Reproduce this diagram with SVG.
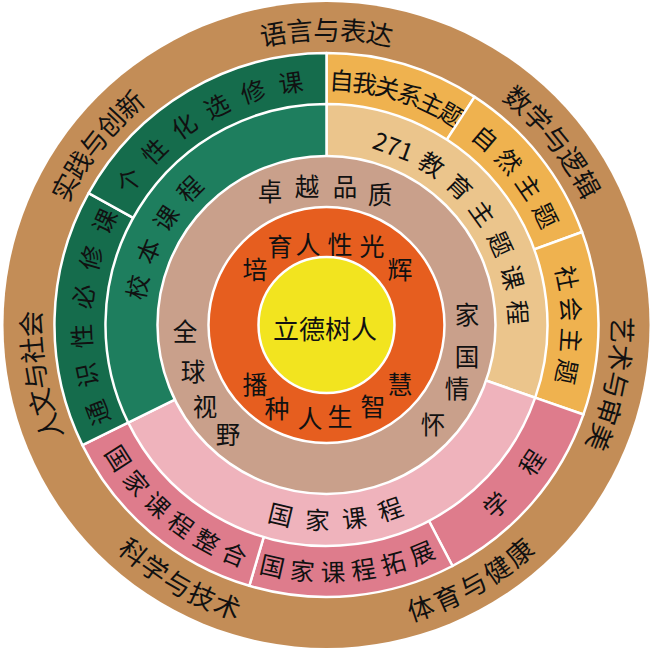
<svg xmlns="http://www.w3.org/2000/svg" width="652" height="651" viewBox="0 0 652 651">
<style>
.seg{stroke:#fff;stroke-width:2.5;stroke-linejoin:round}
text{font-family:"Noto Sans CJK SC","Noto Sans",sans-serif;fill:#111;text-anchor:middle;dominant-baseline:central}
.o text{font-size:26.5px}
.r2 text{font-size:24.5px}
.r3 text{font-size:24.5px}
.r4 text{font-size:24.5px}
.r5 text{font-size:25px}
.c text{font-size:26px}
</style>
<rect width="652" height="651" fill="#fff"/>

<g id="outer-ring" class="o">
  <circle cx="326.5" cy="325" r="323" fill="#C38D57"/>
  <g id="t-yuyan">
    <text x="326.5" y="28" transform="rotate(-10.4 326.5 325)">语</text>
    <text x="326.5" y="28" transform="rotate(-5.2 326.5 325)">言</text>
    <text x="326.5" y="28">与</text>
    <text x="326.5" y="28" transform="rotate(5.2 326.5 325)">表</text>
    <text x="326.5" y="28" transform="rotate(10.4 326.5 325)">达</text>
  </g>
  <g id="t-shuxue">
    <text x="326.5" y="28" transform="rotate(40.4 326.5 325)">数</text>
    <text x="326.5" y="28" transform="rotate(45.7 326.5 325)">学</text>
    <text x="326.5" y="28" transform="rotate(51 326.5 325)">与</text>
    <text x="326.5" y="28" transform="rotate(56.3 326.5 325)">逻</text>
    <text x="326.5" y="28" transform="rotate(61.6 326.5 325)">辑</text>
  </g>
  <g id="t-yishu">
    <text x="326.5" y="28" transform="rotate(91 326.5 325)">艺</text>
    <text x="326.5" y="28" transform="rotate(96.35 326.5 325)">术</text>
    <text x="326.5" y="28" transform="rotate(101.7 326.5 325)">与</text>
    <text x="326.5" y="28" transform="rotate(107.05 326.5 325)">审</text>
    <text x="326.5" y="28" transform="rotate(112.4 326.5 325)">美</text>
  </g>
  <g id="t-tiyu">
    <text x="326.5" y="622" transform="rotate(-18.4 326.5 325)">体</text>
    <text x="326.5" y="622" transform="rotate(-23.9 326.5 325)">育</text>
    <text x="326.5" y="622" transform="rotate(-29.4 326.5 325)">与</text>
    <text x="326.5" y="622" transform="rotate(-34.9 326.5 325)">健</text>
    <text x="326.5" y="622" transform="rotate(-40.3 326.5 325)">康</text>
  </g>
  <g id="t-kexue">
    <text x="326.5" y="622" transform="rotate(40.4 326.5 325)">科</text>
    <text x="326.5" y="622" transform="rotate(35.15 326.5 325)">学</text>
    <text x="326.5" y="622" transform="rotate(29.9 326.5 325)">与</text>
    <text x="326.5" y="622" transform="rotate(24.65 326.5 325)">技</text>
    <text x="326.5" y="622" transform="rotate(19.4 326.5 325)">术</text>
  </g>
  <g id="t-renwen">
    <text x="326.5" y="28" transform="rotate(-110.2 326.5 325)">人</text>
    <text x="326.5" y="28" transform="rotate(-105.1 326.5 325)">文</text>
    <text x="326.5" y="28" transform="rotate(-100 326.5 325)">与</text>
    <text x="326.5" y="28" transform="rotate(-94.9 326.5 325)">社</text>
    <text x="326.5" y="28" transform="rotate(-89.8 326.5 325)">会</text>
  </g>
  <g id="t-shijian">
    <text x="326.5" y="28" transform="rotate(-62.2 326.5 325)">实</text>
    <text x="326.5" y="28" transform="rotate(-57.1 326.5 325)">践</text>
    <text x="326.5" y="28" transform="rotate(-52 326.5 325)">与</text>
    <text x="326.5" y="28" transform="rotate(-46.8 326.5 325)">创</text>
    <text x="326.5" y="28" transform="rotate(-41.7 326.5 325)">新</text>
  </g>
</g>

<g class="r2">
  <g id="ziwo">
    <path class="seg" fill="#EFB24F" d="M326.5 325 L326.5 53 A272 272 0 0 1 474.6 96.9 Z"/>
    <text x="326.5" y="79" transform="rotate(3.5 326.5 325)">自</text>
    <text x="326.5" y="79" transform="rotate(9 326.5 325)">我</text>
    <text x="326.5" y="79" transform="rotate(14.4 326.5 325)">关</text>
    <text x="326.5" y="79" transform="rotate(19.9 326.5 325)">系</text>
    <text x="326.5" y="79" transform="rotate(25.3 326.5 325)">主</text>
    <text x="326.5" y="79" transform="rotate(30.8 326.5 325)">题</text>
  </g>
  <g id="ziran">
    <path class="seg" fill="#EFB24F" d="M326.5 325 L474.6 96.9 A272 272 0 0 1 582.1 232 Z"/>
    <text x="326.5" y="79" transform="rotate(40.35 326.5 325)">自</text>
    <text x="326.5" y="79" transform="rotate(48.05 326.5 325)">然</text>
    <text x="326.5" y="79" transform="rotate(55.75 326.5 325)">主</text>
    <text x="326.5" y="79" transform="rotate(63.45 326.5 325)">题</text>
  </g>
  <g id="shehui">
    <path class="seg" fill="#EFB24F" d="M326.5 325 L582.1 232 A272 272 0 0 1 583.4 414.5 Z"/>
    <text x="326.5" y="79" transform="rotate(78.9 326.5 325)">社</text>
    <text x="326.5" y="79" transform="rotate(86.3 326.5 325)">会</text>
    <text x="326.5" y="79" transform="rotate(93.6 326.5 325)">主</text>
    <text x="326.5" y="79" transform="rotate(101 326.5 325)">题</text>
  </g>
  <g id="xuecheng">
    <path class="seg" fill="#DE7C8C" d="M326.5 325 L583.4 414.5 A272 272 0 0 1 452.5 566 Z"/>
    <text x="326.5" y="571" transform="rotate(-43.3 326.5 325)">学</text>
    <text x="326.5" y="571" transform="rotate(-56.2 326.5 325)">程</text>
  </g>
  <g id="tuozhan">
    <path class="seg" fill="#DE7C8C" d="M326.5 325 L452.5 566 A272 272 0 0 1 249.3 585.8 Z"/>
    <text x="326.5" y="571" transform="rotate(12.7 326.5 325)">国</text>
    <text x="326.5" y="571" transform="rotate(5.6 326.5 325)">家</text>
    <text x="326.5" y="571" transform="rotate(-1.5 326.5 325)">课</text>
    <text x="326.5" y="571" transform="rotate(-8.6 326.5 325)">程</text>
    <text x="326.5" y="571" transform="rotate(-15.7 326.5 325)">拓</text>
    <text x="326.5" y="571" transform="rotate(-22.7 326.5 325)">展</text>
  </g>
  <g id="zhenghe">
    <path class="seg" fill="#DE7C8C" d="M326.5 325 L249.3 585.8 A272 272 0 0 1 82.4 445.1 Z"/>
    <text x="326.5" y="571" transform="rotate(57.4 326.5 325)">国</text>
    <text x="326.5" y="571" transform="rotate(50.3 326.5 325)">家</text>
    <text x="326.5" y="571" transform="rotate(43.2 326.5 325)">课</text>
    <text x="326.5" y="571" transform="rotate(36.1 326.5 325)">程</text>
    <text x="326.5" y="571" transform="rotate(29 326.5 325)">整</text>
    <text x="326.5" y="571" transform="rotate(21.9 326.5 325)">合</text>
  </g>
  <g id="tongshi">
    <path class="seg" fill="#156C4C" d="M326.5 325 L82.4 445.1 A272 272 0 0 1 88.6 193.1 Z"/>
    <text x="326.5" y="79" transform="rotate(-111 326.5 325)">通</text>
    <text x="326.5" y="79" transform="rotate(-101.8 326.5 325)">识</text>
    <text x="326.5" y="79" transform="rotate(-92.6 326.5 325)">性</text>
    <text x="326.5" y="79" transform="rotate(-83.3 326.5 325)">必</text>
    <text x="326.5" y="79" transform="rotate(-74.1 326.5 325)">修</text>
    <text x="326.5" y="79" transform="rotate(-64.9 326.5 325)">课</text>
  </g>
  <g id="gexing">
    <path class="seg" fill="#156C4C" d="M326.5 325 L88.6 193.1 A272 272 0 0 1 326.5 53 Z"/>
    <text x="326.5" y="79" transform="rotate(-53.8 326.5 325)">个</text>
    <text x="326.5" y="79" transform="rotate(-44.7 326.5 325)">性</text>
    <text x="326.5" y="79" transform="rotate(-35.6 326.5 325)">化</text>
    <text x="326.5" y="79" transform="rotate(-26.6 326.5 325)">选</text>
    <text x="326.5" y="79" transform="rotate(-17.5 326.5 325)">修</text>
    <text x="326.5" y="79" transform="rotate(-8.4 326.5 325)">课</text>
  </g>
</g>

<g class="r3">
  <g id="jiaoyu271">
    <path class="seg" fill="#EBC58C" d="M326.5 325 L326.5 104 A221 221 0 0 1 535.2 397.7 Z"/>
    <text x="326.5" y="133" transform="rotate(20.5 326.5 325)">271</text>
    <text x="326.5" y="132" transform="rotate(33.2 326.5 325)">教</text>
    <text x="326.5" y="132" transform="rotate(43.9 326.5 325)">育</text>
    <text x="326.5" y="132" transform="rotate(54.4 326.5 325)">主</text>
    <text x="326.5" y="132" transform="rotate(65 326.5 325)">题</text>
    <text x="326.5" y="132" transform="rotate(75.6 326.5 325)">课</text>
    <text x="326.5" y="132" transform="rotate(86.2 326.5 325)">程</text>
  </g>
  <g id="guojia">
    <path class="seg" fill="#EFB3BC" d="M326.5 325 L535.2 397.7 A221 221 0 0 1 128.2 422.6 Z"/>
    <text x="326.5" y="519" transform="rotate(13.6 326.5 325)">国</text>
    <text x="326.5" y="519" transform="rotate(2.7 326.5 325)">家</text>
    <text x="326.5" y="519" transform="rotate(-8.2 326.5 325)">课</text>
    <text x="326.5" y="519" transform="rotate(-19.1 326.5 325)">程</text>
  </g>
  <g id="xiaoben">
    <path class="seg" fill="#1E7E5E" d="M326.5 325 L128.2 422.6 A221 221 0 0 1 326.5 104 Z"/>
    <text x="326.5" y="131" transform="rotate(-78.7 326.5 325)">校</text>
    <text x="326.5" y="131" transform="rotate(-67.5 326.5 325)">本</text>
    <text x="326.5" y="131" transform="rotate(-56.3 326.5 325)">课</text>
    <text x="326.5" y="131" transform="rotate(-45.1 326.5 325)">程</text>
  </g>
</g>

<g class="r4" id="ring4">
  <circle class="seg" cx="326.5" cy="325" r="169" fill="#C9A08B"/>
  <text x="270" y="190">卓</text>
  <text x="307" y="185">越</text>
  <text x="345" y="185">品</text>
  <text x="380" y="193">质</text>
  <text x="185" y="330">全</text>
  <text x="193" y="370">球</text>
  <text x="205" y="405">视</text>
  <text x="228" y="433">野</text>
  <text x="467" y="313">家</text>
  <text x="467" y="355">国</text>
  <text x="457" y="387">情</text>
  <text x="433" y="423">怀</text>
</g>
<g class="r5" id="ring5">
  <circle class="seg" cx="326.5" cy="325" r="118" fill="#E65E1F"/>
  <text x="255" y="268">培</text>
  <text x="280" y="245">育</text>
  <text x="308" y="243">人</text>
  <text x="340" y="243">性</text>
  <text x="372" y="245">光</text>
  <text x="400" y="268">辉</text>
  <text x="255" y="383">播</text>
  <text x="277" y="407">种</text>
  <text x="310" y="417">人</text>
  <text x="340" y="415">生</text>
  <text x="373" y="405">智</text>
  <text x="400" y="383">慧</text>
</g>

<g id="core" class="c">
  <circle class="seg" cx="326.5" cy="325" r="68" fill="#F2E41F"/>
  <text x="325" y="327">立德树人</text>
</g>
</svg>
